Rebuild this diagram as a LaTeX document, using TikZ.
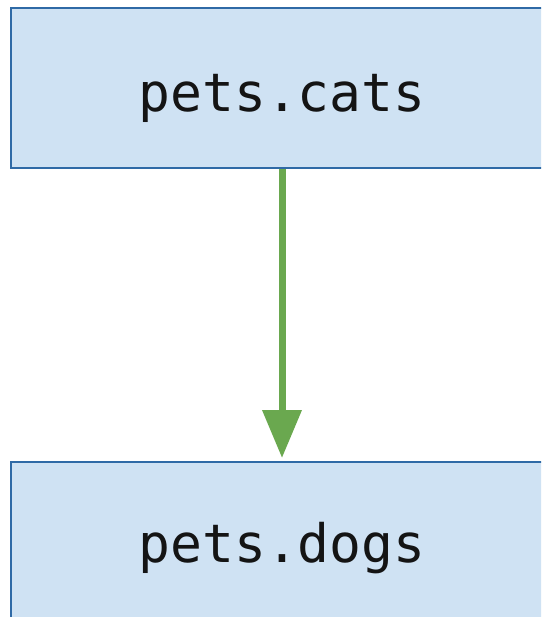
\documentclass[tikz,border=0pt]{standalone}
\usepackage{fontspec}
\setmonofont{DejaVu Sans Mono}
\usetikzlibrary{arrows.meta}
\definecolor{boxfill}{HTML}{CFE2F3}
\definecolor{boxline}{HTML}{2F6AA6}
\definecolor{flowgreen}{HTML}{6AA84F}
\definecolor{ink}{HTML}{141414}
\tikzset{
  modbox/.style={draw=boxline, line width=2pt, fill=boxfill, rectangle,
    minimum width=542pt, minimum height=160pt, inner sep=0pt},
  modname/.style={font=\ttfamily\fontsize{53}{60}\selectfont, text=ink,
    anchor=base, inner sep=0pt},
  dep/.style={draw=flowgreen, line width=7pt,
    -{Triangle[width=38pt,length=48pt]}, shorten >=3pt}
}
\begin{document}
\begin{tikzpicture}[x=1pt,y=-1pt]
  \useasboundingbox (0,0) rectangle (541,617);
  \clip (0,0) rectangle (541,617);
  % module boxes
  \node[modbox] (cats) at (282,88) {};
  \node[modbox] (dogs) at (282,542) {};
  % module names
  \node[modname] (catsname) at (282,112) {pets.cats};
  \node[modname] (dogsname) at (282,562) {pets.dogs};
  % dependency arrow
  \draw[dep] (cats.south) -- (dogs.north);
\end{tikzpicture}
\end{document}
